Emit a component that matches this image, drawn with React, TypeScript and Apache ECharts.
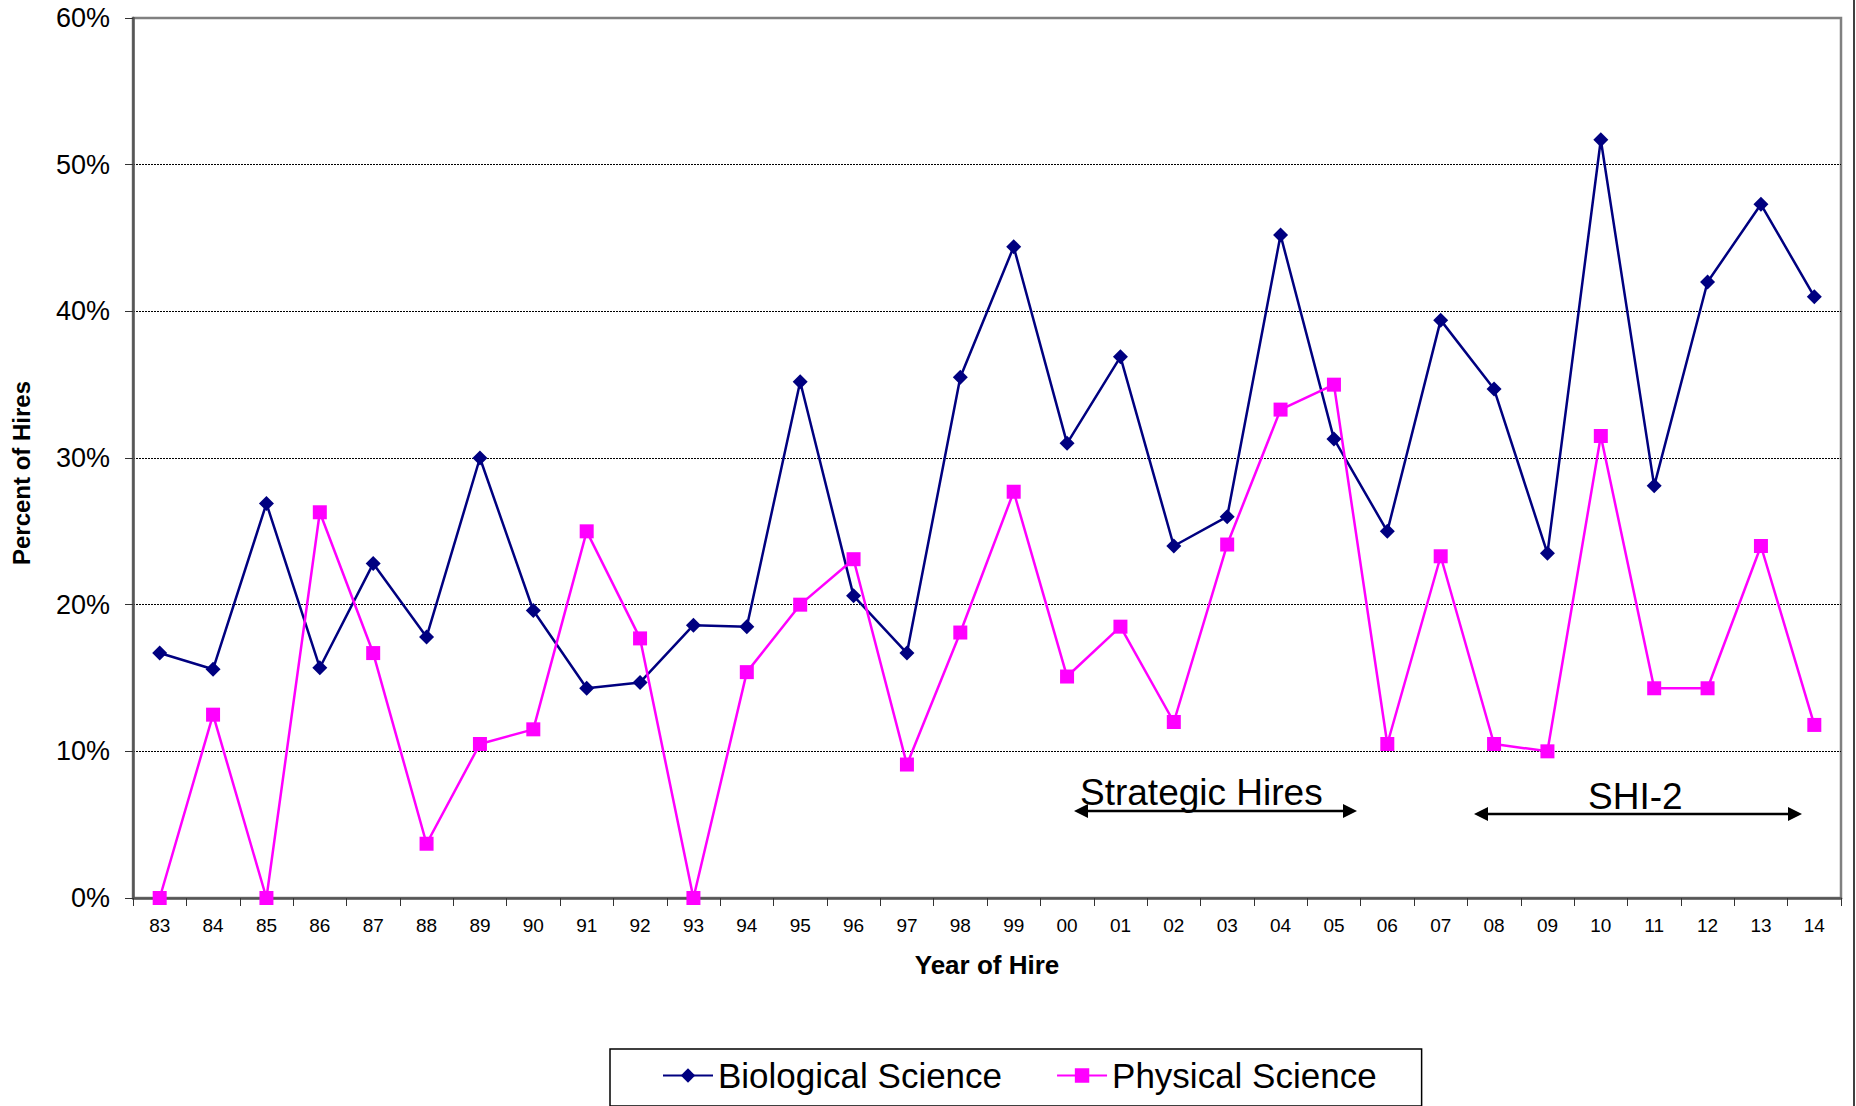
import React, { useEffect, useRef } from "react";
import * as echarts from "echarts";

const years = ["83","84","85","86","87","88","89","90","91","92","93","94","95","96","97","98","99","00","01","02","03","04","05","06","07","08","09","10","11","12","13","14"];
const biological = [16.7,15.6,26.9,15.7,22.8,17.8,30.0,19.6,14.3,14.7,18.6,18.5,35.2,20.6,16.7,35.5,44.4,31.0,36.9,24.0,26.0,45.2,31.3,25.0,39.4,34.7,23.5,51.7,28.1,42.0,47.3,41.0];
const physical = [0,12.5,0,26.3,16.7,3.7,10.5,11.5,25.0,17.7,0,15.4,20.0,23.1,9.1,18.1,27.7,15.1,18.5,12.0,24.1,33.3,35.0,10.5,23.3,10.5,10.0,31.5,14.3,14.3,24.0,11.8];
const seriesNames = ["Biological Science", "Physical Science"];
const annotations = ["Strategic Hires", "SHI-2"];
const axisTitles = ["Year of Hire", "Percent of Hires"];

const FONT = "Arial, 'Liberation Sans', Helvetica, sans-serif";

function arrow(x1: number, x2: number, y: number) {
  const h = 14, w = 7;
  return [
    { type: "line", shape: { x1: x1 + 4, y1: y, x2: x2 - 4, y2: y }, style: { stroke: "#000", lineWidth: 2.5 } },
    { type: "polygon", shape: { points: [[x1, y], [x1 + h, y - w], [x1 + h, y + w]] }, style: { fill: "#000" } },
    { type: "polygon", shape: { points: [[x2, y], [x2 - h, y - w], [x2 - h, y + w]] }, style: { fill: "#000" } },
  ];
}

export default function App() {
  const ref = useRef<HTMLDivElement>(null);
  useEffect(() => {
    if (!ref.current) return;
    const chart = echarts.init(ref.current, null, { renderer: "svg" });
    chart.setOption({
      animation: false,
      backgroundColor: "#fff",
      grid: {
        left: 133, right: 15, top: 18, bottom: 208,
        containLabel: false,
        outerBoundsMode: "none",
        show: true, borderColor: "#808080", borderWidth: 2.5, backgroundColor: "transparent",
      },
      xAxis: {
        type: "category",
        data: years,
        boundaryGap: true,
        axisLine: { lineStyle: { color: "#555", width: 2.5 } },
        axisTick: { show: true, alignWithLabel: false, length: 8, lineStyle: { color: "#333", width: 1 } },
        axisLabel: { color: "#000", fontSize: 19, fontFamily: FONT, margin: 18 },
        name: axisTitles[0],
        nameLocation: "middle",
        nameGap: 54,
        nameTextStyle: { color: "#000", fontSize: 26, fontWeight: "bold", fontFamily: FONT },
        splitLine: { show: false },
      },
      yAxis: {
        type: "value",
        min: 0, max: 60, interval: 10,
        axisLine: { show: true, lineStyle: { color: "#555", width: 2.5 } },
        axisTick: { show: true, length: 8, lineStyle: { color: "#333", width: 1 } },
        axisLabel: { color: "#000", fontSize: 27, fontFamily: FONT, margin: 23, formatter: "{value}%" },
        splitLine: { show: true, showMinLine: false, showMaxLine: false, lineStyle: { color: "#000", type: [2, 1], width: 1 } },
      },
      legend: {
        left: 610, top: 1049,
        padding: [9, 45, 13, 52],
        borderColor: "#000", borderWidth: 1.5,
        itemGap: 54,
        itemWidth: 50, itemHeight: 18,
        textStyle: { color: "#000", fontSize: 35, fontFamily: FONT },
        data: seriesNames,
      },
      series: [
        {
          name: seriesNames[0],
          type: "line",
          data: biological,
          symbol: "diamond",
          symbolSize: 15,
          itemStyle: { color: "#000080" },
          lineStyle: { color: "#000080", width: 2.5 },
        },
        {
          name: seriesNames[1],
          type: "line",
          data: physical,
          symbol: "rect",
          symbolSize: 14,
          itemStyle: { color: "#FF00FF" },
          lineStyle: { color: "#FF00FF", width: 2.5 },
        },
      ],
      graphic: [
        { type: "text", x: 21, y: 473, rotation: Math.PI / 2, style: { text: axisTitles[1], fontSize: 24, fontWeight: "bold", fontFamily: FONT, fill: "#000", align: "center", verticalAlign: "middle" } },
        { type: "text", left: 1080, top: 774, style: { text: annotations[0], fontSize: 37, fontFamily: FONT, fill: "#000" } },
        { type: "text", left: 1588, top: 778, style: { text: annotations[1], fontSize: 37, fontFamily: FONT, fill: "#000" } },
        ...arrow(1074, 1357, 811),
        ...arrow(1474, 1802, 814),
        { type: "line", shape: { x1: 1854, y1: 0, x2: 1854, y2: 1106 }, style: { stroke: "#000", lineWidth: 1.5 } },
      ],
    });
    return () => chart.dispose();
  }, []);
  return <div ref={ref} style={{ position: "fixed", left: 0, top: 0, width: 1856, height: 1106 }} />;
}
